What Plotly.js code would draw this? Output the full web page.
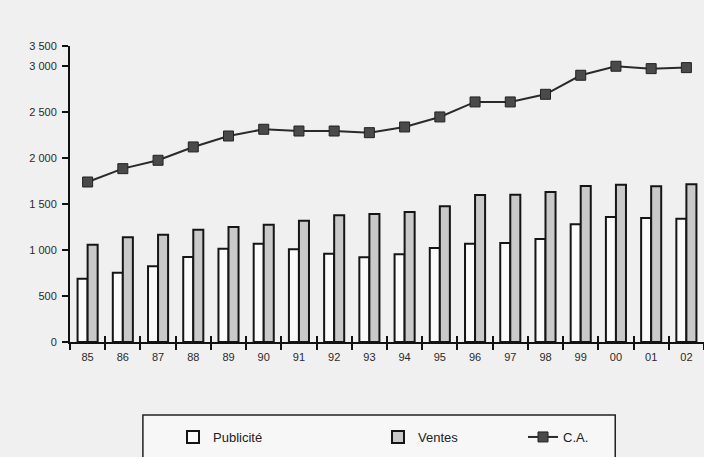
<!DOCTYPE html>
<html>
<head>
<meta charset="utf-8">
<script src="https://cdn.plot.ly/plotly-3.0.1.min.js"></script>
<style>html,body{margin:0;padding:0;background:#f0f0f0;}#chart{width:704px;height:457px;}</style>
</head>
<body>
<div id="chart"></div>
<script>
var years = ["85","86","87","88","89","90","91","92","93","94","95","96","97","98","99","00","01","02"];
var publicite = [688,753,823,924,1014,1068,1008,960,921,953,1022,1068,1076,1120,1279,1359,1348,1340];
var ventes = [1058,1138,1166,1221,1250,1275,1318,1377,1391,1413,1475,1598,1601,1630,1696,1710,1692,1714];
var ca = [1739,1884,1975,2120,2239,2312,2293,2293,2275,2337,2446,2609,2609,2692,2899,2997,2971,2982];
var yTickVals = [0,500,1000,1500,2000,2500,3000,3217];
var yTickText = ["0","500","1 000","1 500","2 000","2 500","3 000","3 500"];

var FONT = "'Liberation Sans Narrow', 'Arial Narrow', 'Liberation Sans', sans-serif";

var traces = [
  {type:'bar', name:'Publicité', x:years, y:publicite, legend:'legend',
   marker:{color:'#fbfbfb', line:{color:'#151515', width:2}}},
  {type:'bar', name:'Ventes', x:years, y:ventes, legend:'legend2',
   marker:{color:'#c9c9c9', line:{color:'#151515', width:2}}},
  {type:'scatter', mode:'lines+markers', name:'C.A.', x:years, y:ca, legend:'legend3',
   xaxis:'x2', yaxis:'y',
   line:{color:'#2a2a2a', width:2},
   marker:{symbol:'square', size:10, color:'#4a4a4a', line:{color:'#222', width:1}}}
];

function leg(px) {
  return {orientation:'h', xref:'container', yref:'container', x:px/704, xanchor:'left',
    y:1-437/457, yanchor:'middle', bgcolor:'rgba(0,0,0,0)', borderwidth:0,
    font:{family:FONT, size:13, color:'#222'}};
}

var layout = {
  width:704, height:457,
  margin:{l:70, r:0, t:46, b:115, autoexpand:false},
  paper_bgcolor:'#f0f0f0', plot_bgcolor:'#f0f0f0',
  barmode:'group', bargap:0.43, bargroupgap:0,
  showlegend:true,
  font:{family:FONT, size:11, color:'#2a2a2a'},
  xaxis:{type:'category', categoryarray:years, range:[-0.5,17.5], autorange:false, tickson:'boundaries',
    ticks:'outside', ticklen:6, tickwidth:2, tickcolor:'#111', ticklabelstandoff:4,
    showline:true, linecolor:'#111', linewidth:2,
    showgrid:false, zeroline:false, fixedrange:true,
    tickfont:{family:FONT, size:11, color:'#2a2a2a'}},
  xaxis2:{type:'category', categoryarray:years, overlaying:'x', matches:'x', side:'bottom',
    tickson:'boundaries', ticks:'inside', ticklen:6, tickwidth:2, tickcolor:'#111',
    showticklabels:false, showline:false, showgrid:false, zeroline:false},
  yaxis:{range:[0,3217], tickvals:yTickVals, ticktext:yTickText,
    ticks:'outside', ticklen:6, tickwidth:2, tickcolor:'#111', ticklabelstandoff:3,
    showline:true, linecolor:'#111', linewidth:2,
    showgrid:false, zeroline:false,
    tickfont:{family:FONT, size:11, color:'#2a2a2a'}},
  legend:leg(173),
  legend2:leg(378),
  legend3:leg(523),
  shapes:[{type:'rect', xref:'paper', yref:'paper', x0:0.115, x1:0.86, y0:-0.247, y1:-0.40,
    line:{color:'#222', width:1.5}, fillcolor:'#f7f7f7', layer:'below'}]
};

Plotly.newPlot('chart', traces, layout, {displayModeBar:false, staticPlot:true});
</script>
</body>
</html>
